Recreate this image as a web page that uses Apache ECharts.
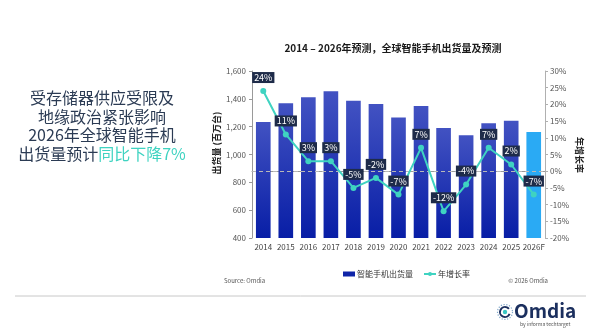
<!DOCTYPE html>
<html>
<head>
<meta charset="utf-8">
<script src="https://cdn.jsdelivr.net/npm/echarts@6/dist/echarts.min.js"></script>
<style>
  html, body { margin: 0; padding: 0; background: #ffffff; }
  #chart { width: 600px; height: 332px; }
</style>
</head>
<body>
<div id="chart"></div>
<script>
// Global smartphone shipments (millions) and year-over-year growth (%)
const years = ['2014', '2015', '2016', '2017', '2018', '2019', '2020', '2021', '2022', '2023', '2024', '2025', '2026F'];
const shipments = [1233, 1368, 1411, 1454, 1386, 1362, 1265, 1348, 1190, 1138, 1224, 1243, 1161];
const growth = [24, 11, 3, 3, -5, -2, -7, 7, -12, -4, 7, 2, -7];
const shipmentTicks = { min: 400, max: 1600, step: 200 };
const growthTicks = { min: -20, max: 30, step: 5 };

const FONT = '"Noto Sans CJK SC", "Noto Sans", sans-serif';
const DARK = '#2b3b54';
const TEAL = '#3fd3c1';

const barGradient = new echarts.graphic.LinearGradient(0, 0, 0, 1, [
  { offset: 0, color: '#4252c2' },
  { offset: 1, color: '#081ea6' }
]);

const barData = shipments.map((v, i) =>
  i === shipments.length - 1
    ? { value: v, itemStyle: { color: '#2aaaf4' } }
    : { value: v }
);

const chart = echarts.init(document.getElementById('chart'));
chart.setOption({
  backgroundColor: '#ffffff',
  animation: false,
  textStyle: { fontFamily: FONT },
  title: {
    text: '2014 – 2026年预测，全球智能手机出货量及预测',
    left: 388, top: 38, textAlign: 'center',
    textStyle: { fontSize: 10, fontWeight: 'bold', color: '#1a1a1a', fontFamily: FONT }
  },
  legend: {
    left: 338, top: 265,
    itemWidth: 12, itemHeight: 5, itemGap: 10,
    textStyle: { fontSize: 8, color: '#333', fontFamily: FONT, padding: [0, 0, 0, -3] },
    data: [
      { name: '智能手机出货量', icon: 'rect', itemStyle: { color: '#0f25a8' } },
      { name: '年增长率' }
    ]
  },
  grid: { left: 252, right: 55, top: 71, bottom: 94 },
  xAxis: {
    type: 'category',
    data: years,
    axisLine: { lineStyle: { color: '#9a9a9a' } },
    axisTick: { show: false },
    axisLabel: { interval: 0, fontSize: 8, color: '#444', margin: 5, fontFamily: FONT }
  },
  yAxis: [
    {
      type: 'value',
      min: shipmentTicks.min, max: shipmentTicks.max, interval: shipmentTicks.step,
      axisLine: { show: true, lineStyle: { color: '#9a9a9a' } },
      axisTick: { show: true, length: 3, lineStyle: { color: '#9a9a9a' } },
      splitLine: { show: false },
      axisLabel: {
        fontSize: 8, color: '#555', margin: 6, fontFamily: FONT,
        formatter: v => v.toLocaleString('en-US')
      }
    },
    {
      type: 'value',
      min: growthTicks.min, max: growthTicks.max, interval: growthTicks.step,
      axisLine: { show: true, lineStyle: { color: '#b0b0b0' } },
      axisTick: { show: true, length: 3, lineStyle: { color: '#b0b0b0' } },
      splitLine: { show: false },
      axisLabel: { fontSize: 8, color: '#555', margin: 5, fontFamily: FONT, formatter: '{value}%' }
    }
  ],
  series: [
    {
      name: '智能手机出货量',
      type: 'bar',
      barWidth: '65%',
      itemStyle: { color: barGradient },
      data: barData,
      z: 2
    },
    {
      name: '年增长率',
      type: 'line',
      yAxisIndex: 1,
      data: growth,
      symbol: 'circle',
      symbolSize: 6,
      lineStyle: { color: TEAL, width: 2 },
      itemStyle: { color: TEAL },
      label: {
        show: true,
        position: 'top',
        distance: 5,
        formatter: p => p.value + '%',
        color: '#ffffff',
        fontSize: 9,
        fontFamily: FONT,
        backgroundColor: '#1e2b49',
        padding: [1, 2]
      },
      markLine: {
        silent: true,
        symbol: 'none',
        label: { show: false },
        lineStyle: { color: '#b8b8b8', type: [4, 3], width: 1 },
        data: [{ yAxis: 0 }]
      },
      z: 5
    }
  ],
  graphic: [
    // Headline block on the left
    {
      type: 'text', x: 102, y: 126,
      style: {
        text: '受存储器供应受限及\n地缘政治紧张影响\n2026年全球智能手机\n{a|出货量预计}{b|同比下降7%}',
        align: 'center', verticalAlign: 'middle',
        font: '16px ' + FONT, fill: DARK, lineHeight: 18.5,
        rich: {
          a: { fontSize: 16, fill: DARK, fontFamily: FONT, lineHeight: 18.5 },
          b: { fontSize: 16, fill: TEAL, fontFamily: FONT, lineHeight: 18.5 }
        }
      }
    },
    // Axis titles
    {
      type: 'text', x: 217, y: 143, rotation: Math.PI / 2,
      style: {
        text: '出货量 (百万台)', align: 'center', verticalAlign: 'middle',
        font: 'bold 9px ' + FONT, fill: '#222'
      }
    },
    {
      type: 'text', x: 579, y: 155, rotation: -Math.PI / 2,
      style: {
        text: '年增长率', align: 'center', verticalAlign: 'middle',
        font: 'bold 9px ' + FONT, fill: '#222'
      }
    },
    // Source and copyright notes
    {
      type: 'text', x: 224, y: 281,
      style: { text: 'Source: Omdia', verticalAlign: 'middle', font: '6px ' + FONT, fill: '#555' }
    },
    {
      type: 'text', x: 548, y: 281,
      style: { text: '© 2026 Omdia', align: 'right', verticalAlign: 'middle', font: '6px ' + FONT, fill: '#555' }
    },
    // Footer rule
    {
      type: 'line', shape: { x1: 15, y1: 296, x2: 586, y2: 296 },
      style: { stroke: '#c8c8c8', lineWidth: 1 }
    },
    // Omdia logo mark
    {
      type: 'circle', shape: { cx: 505, cy: 312, r: 7.5 },
      style: { fill: 'none', stroke: '#7fa6c8', lineWidth: 1.2, lineDash: [1.2, 1.6] }
    },
    {
      type: 'arc', shape: { cx: 505, cy: 312, r: 5, startAngle: 0.4, endAngle: 5.6, clockwise: true },
      style: { fill: 'none', stroke: '#1b2f5e', lineWidth: 2 }
    },
    {
      type: 'circle', shape: { cx: 505, cy: 312, r: 2.2 },
      style: { fill: '#38c6c4' }
    },
    {
      type: 'text', x: 514, y: 311,
      style: { text: 'Omdia', verticalAlign: 'middle', font: 'bold 19px ' + FONT, fill: '#1b2f5e' }
    },
    {
      type: 'text', x: 520, y: 324,
      style: { text: 'by informa techtarget', verticalAlign: 'middle', font: '5px ' + FONT, fill: '#555' }
    }
  ]
});
</script>
</body>
</html>
